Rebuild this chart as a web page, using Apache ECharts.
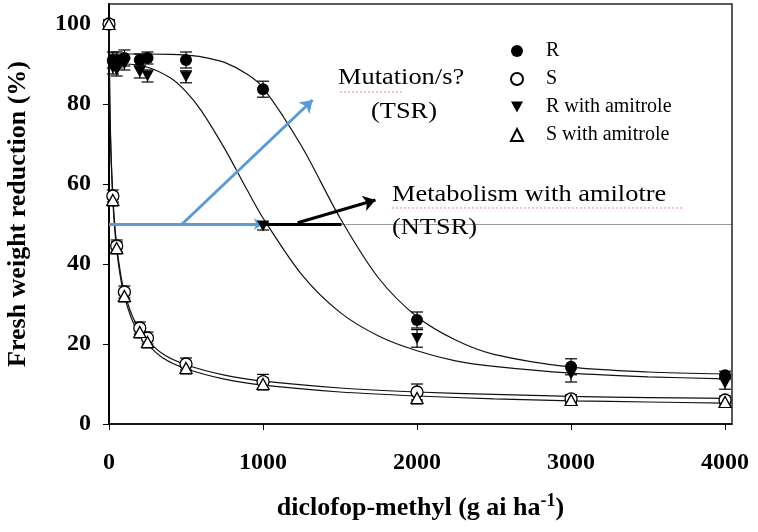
<!DOCTYPE html>
<html>
<head>
<meta charset="utf-8">
<script src="https://cdn.jsdelivr.net/npm/echarts@6/dist/echarts.min.js"></script>
<style>
  html, body { margin: 0; padding: 0; background: #fff; }
  #chart { width: 758px; height: 532px; }
</style>
</head>
<body>
<div id="chart"></div>
<script>
// measured points (mean and error)
const rDoses = [25, 50, 100, 200, 250, 500, 1000, 2000, 3000, 4000]
const sDoses = [0, 25, 50, 100, 200, 250, 500, 1000, 2000, 3000, 4000]
const rMean = [91, 91, 91.5, 91, 91.5, 91, 83.7, 26, 14.3, 12.2]
const rErr = [2, 2, 2, 1.5, 1.5, 2, 2, 2, 2, 1]
const raMean = [89, 88.5, 90, 88, 87, 86.8, 49.5, 21.4, 12.5, 10.2]
const raErr = [1.5, 1.5, 1.5, 1.5, 1.5, 1.5, 1, 2.2, 2, 1.5]
const sMean = [100, 57, 44.5, 33, 24, 21.5, 15, 10.6, 8, 6.3, 6]
const sErr = [1, 1.5, 1.5, 1.5, 1.5, 1.5, 1.5, 1.8, 2, 1, 1]
const saMean = [100, 56, 44, 32, 23, 20.5, 14, 10, 6.5, 6, 5.5]
const saErr = [1, 1.5, 1.5, 1.5, 1.5, 1.5, 1.5, 1.5, 1.5, 1, 1]

// fitted curves
const rCurveX = [0, 100, 250, 400, 500, 600, 750, 900, 1000, 1250, 1500, 1750, 2000, 2250, 2500, 3000, 3500, 4000]
const rFit = [92.5, 92.5, 92.5, 92.4, 92.2, 91.8, 90.4, 87.4, 84.1, 69.5, 51.5, 36.5, 26.8, 21.0, 17.4, 14.2, 13.0, 12.5]
const raFit = [90, 90, 89.2, 86.5, 83.1, 78.3, 68.9, 58.3, 51.5, 37.4, 27.9, 22.0, 18.3, 15.8, 14.4, 12.7, 11.8, 11.3]
const sCurveX = [0, 5, 10, 15, 25, 35, 50, 75, 100, 150, 200, 250, 350, 500, 750, 1000, 1500, 2000, 2500, 3000, 3500, 4000]
const sFit = [100, 81.2, 72.2, 65.8, 57.0, 51.0, 44.6, 37.6, 33.0, 27.1, 23.5, 20.9, 17.5, 14.8, 12.2, 10.7, 9.0, 8.0, 7.4, 6.9, 6.6, 6.4]
const saFit = [100, 80.5, 71.2, 64.8, 56.0, 49.9, 43.5, 36.5, 31.9, 26.0, 22.4, 19.9, 16.5, 13.8, 11.2, 9.7, 8.0, 7.0, 6.3, 5.8, 5.5, 5.2]

const xTicks = [0, 1000, 2000, 3000, 4000]
const yTicks = [0, 20, 40, 60, 80, 100]

// annotation arrows (data coords)
const blueFlat = [[0, 50], [1000, 50]]
const blueUp = [[475, 50], [1322, 81]]
const blackFlat = [[1000, 50], [1510, 50]]
const blackUp = [[1225, 50.3], [1730, 56]]
const dotted50 = [[1510, 50], [4045, 50]]

const BLUE = '#5b9bd5'
const SERIF = '"Liberation Serif", "Times New Roman", serif'
const downTri = 'path://M0,0 L10,0 L5,9 Z'

function errRender (params, api) {
  const x = api.value(0)
  const lo = api.coord([x, api.value(1)])
  const hi = api.coord([x, api.value(2)])
  const w = 6
  const st = { stroke: '#000', lineWidth: 1.2 }
  return {
    type: 'group',
    children: [
      { type: 'line', shape: { x1: lo[0], y1: lo[1], x2: hi[0], y2: hi[1] }, style: st },
      { type: 'line', shape: { x1: lo[0] - w, y1: lo[1], x2: lo[0] + w, y2: lo[1] }, style: st },
      { type: 'line', shape: { x1: hi[0] - w, y1: hi[1], x2: hi[0] + w, y2: hi[1] }, style: st }
    ]
  }
}

function errSeries (xs, mean, err) {
  return {
    type: 'custom',
    renderItem: errRender,
    silent: true,
    z: 2,
    encode: { x: 0, y: [1, 2] },
    data: xs.map((d, i) => [d, mean[i] - err[i], mean[i] + err[i]])
  }
}

function fitSeries (xs, ys) {
  return {
    type: 'line',
    data: xs.map((d, i) => [d, ys[i]]),
    showSymbol: false,
    smooth: 0.3,
    silent: true,
    z: 1,
    lineStyle: { color: '#111', width: 1.2 }
  }
}

function pts (xs, ys) {
  return xs.map((d, i) => [d, ys[i]])
}

function seg (p, style, arrow, size) {
  return [
    { coord: p[0], symbol: 'none', lineStyle: style },
    { coord: p[1], symbol: arrow ? 'arrow' : 'none', symbolSize: size || 12 }
  ]
}

function note (text, x, y) {
  return {
    type: 'text', x: x, y: y, scaleX: 1.1, originX: 0,
    style: { text: text, font: '24px ' + SERIF, fill: '#000', align: 'left', verticalAlign: 'middle' }
  }
}

const chart = echarts.init(document.getElementById('chart'))

chart.setOption({
  animation: false,
  grid: {
    left: 109, right: 26, top: 4, bottom: 108,
    outerBoundsMode: 'none',
    show: true, borderColor: '#222', borderWidth: 1.5
  },
  legend: {
    data: ['R', 'S', 'R with amitrole', 'S with amitrole'],
    orient: 'vertical',
    left: 505,
    top: 36,
    itemWidth: 12,
    itemHeight: 12,
    itemGap: 8,
    textStyle: { fontFamily: SERIF, fontSize: 20, color: '#000', padding: [0, 0, 0, 18] }
  },
  xAxis: {
    type: 'value',
    min: 0,
    max: 4045,
    name: 'diclofop-methyl (g ai ha{sup|-1})',
    nameLocation: 'middle',
    nameGap: 68,
    nameTextStyle: {
      fontFamily: SERIF, fontWeight: 'bold', fontSize: 26, color: '#000',
      rich: { sup: { fontFamily: SERIF, fontWeight: 'bold', fontSize: 18, verticalAlign: 'bottom', padding: [0, 0, 15, 0] } }
    },
    axisLine: { lineStyle: { color: '#000', width: 1.5 } },
    axisTick: { show: true, inside: false, length: 6, customValues: xTicks, lineStyle: { color: '#000' } },
    axisLabel: {
      customValues: xTicks, margin: 27, fontFamily: SERIF, fontWeight: 'bold', fontSize: 24, color: '#000',
      formatter: v => String(v)
    },
    splitLine: { show: false }
  },
  yAxis: {
    type: 'value',
    min: 0,
    max: 105,
    name: 'Fresh weight reduction (%)',
    nameLocation: 'middle',
    nameGap: 78,
    nameTextStyle: { fontFamily: SERIF, fontWeight: 'bold', fontSize: 26, color: '#000' },
    axisLine: { show: true, lineStyle: { color: '#000', width: 2 } },
    axisTick: { show: true, inside: false, length: 6, customValues: yTicks, lineStyle: { color: '#000' } },
    axisLabel: { customValues: yTicks, margin: 18, fontFamily: SERIF, fontWeight: 'bold', fontSize: 24, color: '#000' },
    splitLine: { show: false }
  },
  series: [
    fitSeries(rCurveX, rFit),
    fitSeries(rCurveX, raFit),
    fitSeries(sCurveX, sFit),
    fitSeries(sCurveX, saFit),
    errSeries(rDoses, rMean, rErr),
    errSeries(rDoses, raMean, raErr),
    errSeries(sDoses, sMean, sErr),
    errSeries(sDoses, saMean, saErr),
    {
      type: 'line',
      data: [],
      silent: true,
      z: 3,
      markLine: {
        silent: true,
        animation: false,
        label: { show: false },
        emphasis: { disabled: true },
        data: [
          seg(dotted50, { color: '#333', width: 1, type: 'dotted' }, false),
          seg(blueFlat, { color: BLUE, width: 3, type: 'solid' }, true, 9),
          seg(blueUp, { color: BLUE, width: 3, type: 'solid' }, true, 12),
          seg(blackFlat, { color: '#000', width: 3, type: 'solid' }, false),
          seg(blackUp, { color: '#000', width: 3, type: 'solid' }, true, 12)
        ]
      }
    },
    {
      name: 'R', type: 'scatter', z: 4, symbol: 'circle', symbolSize: 12,
      itemStyle: { color: '#000', opacity: 1 }, data: pts(rDoses, rMean)
    },
    {
      name: 'S', type: 'scatter', z: 4, symbol: 'circle', symbolSize: 12,
      itemStyle: { color: '#fff', borderColor: '#000', borderWidth: 1.3, opacity: 1 }, data: pts(sDoses, sMean)
    },
    {
      name: 'R with amitrole', type: 'scatter', z: 5, symbol: downTri, symbolSize: [12, 11],
      itemStyle: { color: '#000', opacity: 1 }, data: pts(rDoses, raMean)
    },
    {
      name: 'S with amitrole', type: 'scatter', z: 5, symbol: 'triangle', symbolSize: [12, 11],
      itemStyle: { color: '#fff', borderColor: '#000', borderWidth: 1.3, opacity: 1 }, data: pts(sDoses, saMean)
    }
  ],
  graphic: [
    note('Mutation/s?', 338, 78),
    note('(TSR)', 371, 112),
    note('Metabolism with amilotre', 392, 195),
    note('(NTSR)', 392, 228),
    { type: 'line', shape: { x1: 340, y1: 92, x2: 404, y2: 92 }, style: { stroke: '#e58a8a', lineWidth: 1, lineDash: [2, 2] } },
    { type: 'line', shape: { x1: 392, y1: 208, x2: 684, y2: 208 }, style: { stroke: '#e58a8a', lineWidth: 1, lineDash: [2, 2] } }
  ]
})
</script>
</body>
</html>
